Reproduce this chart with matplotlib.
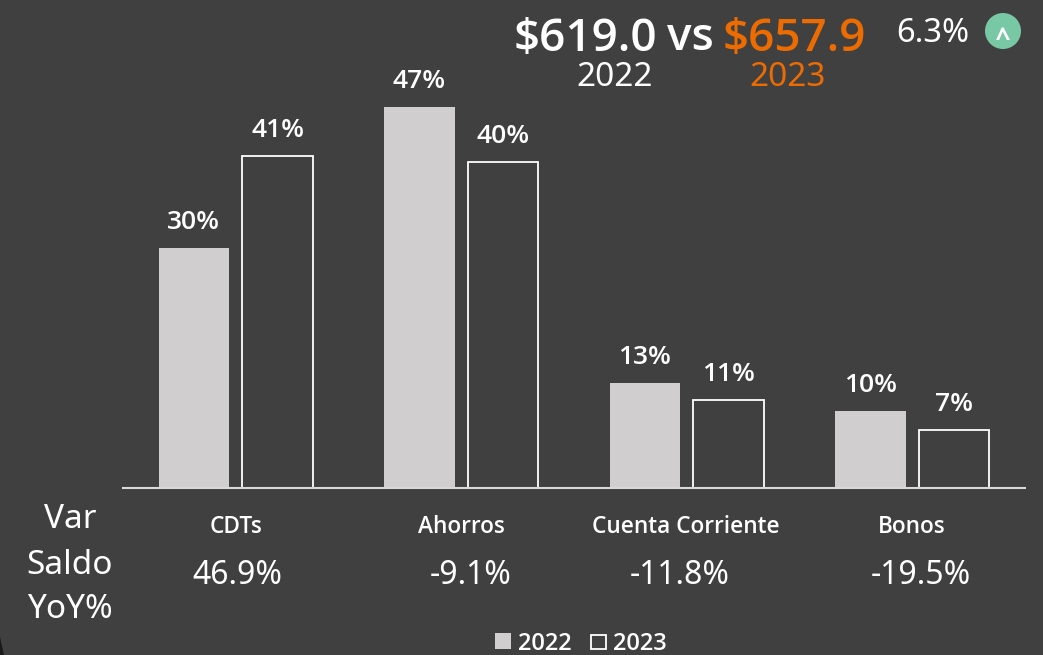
import numpy as np
import matplotlib
matplotlib.use('Agg')
import matplotlib.pyplot as plt
from matplotlib.patches import Circle, Rectangle, Polygon

plt.rcParams['font.family'] = ['Noto Sans', 'DejaVu Sans']

categories = ['CDTs', 'Ahorros', 'Cuenta Corriente', 'Bonos']
vals_2022 = [29.6, 47, 13, 9.5]
vals_2023 = [41, 40.2, 10.9, 7.2]
var_saldo = ['46.9%', '-9.1%', '-11.8%', '-19.5%']

bg = '#404040'
gray = '#d0cece'
orange = '#ed6c02'
W, H = 1043, 655

fig = plt.figure(figsize=(W / 100, H / 100), dpi=100, facecolor=bg)

# overlay in pixel coords for the loose text
over = fig.add_axes([0, 0, 1, 1], zorder=3)
over.set_xlim(0, W)
over.set_ylim(H, 0)
over.axis('off')

# bar axes: baseline at y=488, x axis line from 123 to 1025
ax = fig.add_axes([123 / W, 1 - 488 / H, (1025 - 123) / W, 420 / H], facecolor='none')
x = np.arange(len(categories))
ax.set_xlim(-0.5, 3.5)
ax.set_ylim(0, 420 / (381 / 47))
w = 0.313
off = 0.186
ax.bar(x - off, vals_2022, w, color=gray, edgecolor='none')
ax.bar(x + off, vals_2023, w, facecolor='none', edgecolor='white', linewidth=1.3)

for i in x:
    ax.annotate(f'{vals_2022[i]:.0f}%', (i - off, vals_2022[i]), xytext=(0, 13), textcoords='offset pixels',
                ha='center', va='bottom', color='white', fontsize=19, fontweight='semibold', family='Open Sans')
    ax.annotate(f'{vals_2023[i]:.0f}%', (i + off, vals_2023[i]), xytext=(0, 13), textcoords='offset pixels',
                ha='center', va='bottom', color='white', fontsize=19, fontweight='semibold', family='Open Sans')

for s in ['top', 'left', 'right']:
    ax.spines[s].set_visible(False)
ax.spines['bottom'].set_color('#d9d9d9')
ax.spines['bottom'].set_linewidth(1.5)
ax.set_yticks([])
ax.set_xticks([])

cat_x = [236, 461, 686, 912]
var_x = [237, 471, 680, 921]
for cx, vx, c, v in zip(cat_x, var_x, categories, var_saldo):
    over.text(cx, 527, c, ha='center', va='center', color='white', fontsize=16.3, fontweight='semibold', family='Open Sans')
    over.text(vx, 575, v, ha='center', va='center', color='white', fontsize=23)

over.text(70, 519, 'Var', ha='center', va='center', color='white', fontsize=24)
over.text(70, 565, 'Saldo', ha='center', va='center', color='white', fontsize=24)
over.text(70, 610, 'YoY%', ha='center', va='center', color='white', fontsize=24)

# header
over.text(585, 39, '$619.0', ha='center', va='center', color='white', fontsize=33, fontweight='semibold', family='Open Sans')
over.text(690, 39, 'vs', ha='center', va='center', color='white', fontsize=33, fontweight='semibold', family='Open Sans')
over.text(794, 39, '$657.9', ha='center', va='center', color=orange, fontsize=33, fontweight='semibold', family='Open Sans')
over.text(615, 78, '2022', ha='center', va='center', color='white', fontsize=24)
over.text(788, 78, '2023', ha='center', va='center', color=orange, fontsize=24)
over.text(933, 34, '6.3%', ha='center', va='center', color='white', fontsize=23.5)
over.add_patch(Circle((1003, 31), 18, facecolor='#78c8a5', edgecolor='none'))
over.text(1003, 40, '^', ha='center', va='center', color='white', fontsize=19, fontweight='bold', family='Open Sans')

# legend
over.add_patch(Rectangle((495, 633), 16, 16, facecolor=gray, edgecolor='none'))
over.text(518, 644, '2022', ha='left', va='center', color='white', fontsize=17, fontweight='semibold', family='Open Sans')
over.add_patch(Rectangle((591, 635), 15, 14, facecolor='none', edgecolor='white', linewidth=1.3))
over.text(613, 644, '2023', ha='left', va='center', color='white', fontsize=17, fontweight='semibold', family='Open Sans')

# window corner bottom left
over.add_patch(Polygon([(0, 637), (4, 655), (0, 655)], facecolor='#1a1a1a', edgecolor='none'))

fig.savefig('out.png', dpi=100, facecolor=fig.get_facecolor())
